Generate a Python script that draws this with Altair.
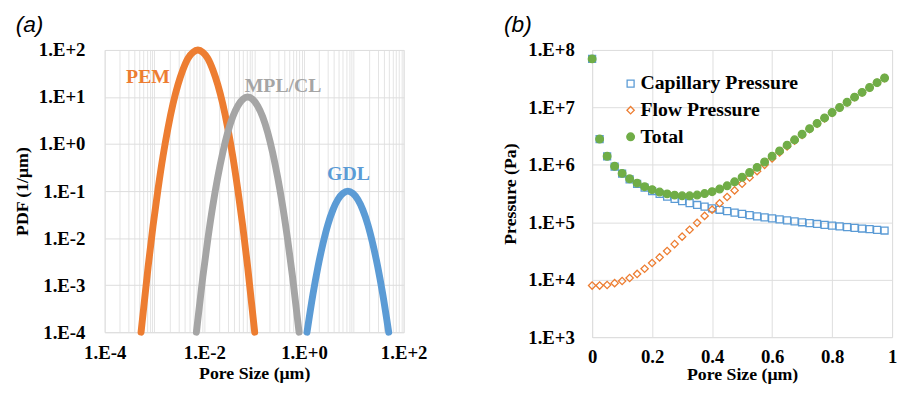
import altair as alt
import pandas as pd

# ---------------- Panel (a): pore size distributions ----------------
# log10(pore size, um) and log10(PDF, 1/um)
pem_log_size = [-3.27, -3.13, -3.03, -2.93, -2.83, -2.73, -2.63, -2.53, -2.43, -2.33, -2.23, -2.13,
                -2.03, -1.93, -1.83, -1.73, -1.63, -1.53, -1.43, -1.33, -1.23, -1.13, -0.99]
pem_log_pdf = [-4.0, -2.62, -1.74, -0.96, -0.26, 0.34, 0.85, 1.26, 1.58, 1.82, 1.95, 2.0,
               1.95, 1.82, 1.58, 1.26, 0.85, 0.34, -0.26, -0.96, -1.74, -2.62, -4.0]

mpl_log_size = [-2.16, -2.03, -1.93, -1.83, -1.73, -1.63, -1.53, -1.43, -1.33, -1.23, -1.13,
                -1.03, -0.93, -0.83, -0.73, -0.63, -0.53, -0.43, -0.33, -0.23, -0.10]
mpl_log_pdf = [-4.0, -2.82, -2.02, -1.31, -0.70, -0.18, 0.25, 0.58, 0.81, 0.95, 1.0,
               0.95, 0.81, 0.58, 0.25, -0.18, -0.70, -1.31, -2.02, -2.82, -4.0]

gdl_log_size = [0.06, 0.18, 0.28, 0.38, 0.48, 0.58, 0.68, 0.78, 0.88, 0.98, 1.08, 1.18, 1.28,
                1.38, 1.48, 1.58, 1.70]
gdl_log_pdf = [-4.0, -3.19, -2.61, -2.12, -1.71, -1.40, -1.18, -1.05, -1.0, -1.05, -1.18, -1.40,
               -1.71, -2.12, -2.61, -3.19, -4.0]

layer_names = ["PEM", "MPL/CL", "GDL"]
layer_colors = ["#ED7D31", "#A5A5A5", "#5B9BD5"]
label_size = [7.4e-4, 0.38, 7.8]
label_pdf = [27.0, 17.0, 0.226]

# ---------------- Panel (b): pressures ----------------
pore_size = [0.0, 0.025, 0.05, 0.075, 0.1, 0.125, 0.15, 0.175, 0.2, 0.225, 0.25, 0.275, 0.3,
             0.325, 0.35, 0.375, 0.4, 0.425, 0.45, 0.475, 0.5, 0.525, 0.55, 0.575, 0.6, 0.625,
             0.65, 0.675, 0.7, 0.725, 0.75, 0.775, 0.8, 0.825, 0.85, 0.875, 0.9, 0.925, 0.95, 0.975]
capillary = [7.0e7, 2.8e6, 1.4e6, 9.33e5, 7.0e5, 5.6e5, 4.67e5, 4.0e5, 3.5e5, 3.11e5, 2.8e5,
             2.55e5, 2.33e5, 2.15e5, 2.0e5, 1.87e5, 1.75e5, 1.65e5, 1.56e5, 1.47e5, 1.4e5,
             1.33e5, 1.27e5, 1.22e5, 1.17e5, 1.12e5, 1.08e5, 1.04e5, 1.0e5, 9.66e4, 9.33e4,
             9.03e4, 8.75e4, 8.48e4, 8.24e4, 8.0e4, 7.78e4, 7.57e4, 7.37e4, 7.18e4]
flow = [7.9e3, 7.9e3, 8.1e3, 8.7e3, 9.5e3, 1.07e4, 1.26e4, 1.55e4, 1.95e4, 2.45e4, 3.16e4,
        4.17e4, 5.62e4, 7.41e4, 9.77e4, 1.29e5, 1.66e5, 2.14e5, 2.75e5, 3.59e5, 4.68e5,
        6.03e5, 7.76e5, 1.0e6, 1.29e6, 1.64e6, 2.09e6, 2.63e6, 3.31e6, 4.17e6, 5.19e6,
        6.46e6, 8.04e6, 9.89e6, 1.22e7, 1.5e7, 1.82e7, 2.21e7, 2.69e7, 3.24e7]
total = [7.0e7, 2.81e6, 1.41e6, 9.42e5, 7.1e5, 5.71e5, 4.8e5, 4.16e5, 3.7e5, 3.36e5, 3.12e5,
         2.97e5, 2.89e5, 2.89e5, 2.98e5, 3.16e5, 3.41e5, 3.79e5, 4.31e5, 5.06e5, 6.08e5,
         7.36e5, 9.03e5, 1.12e6, 1.41e6, 1.75e6, 2.2e6, 2.73e6, 3.41e6, 4.27e6, 5.28e6,
         6.55e6, 8.13e6, 9.97e6, 1.23e7, 1.51e7, 1.83e7, 2.22e7, 2.7e7, 3.25e7]

series_names = ["Capillary Pressure", "Flow Pressure", "Total"]
series_colors = ["#5B9BD5", "#ED7D31", "#70AD47"]

# ---------------- build tables ----------------
rows = []
for name, xs, ys in [("PEM", pem_log_size, pem_log_pdf),
                     ("MPL/CL", mpl_log_size, mpl_log_pdf),
                     ("GDL", gdl_log_size, gdl_log_pdf)]:
    for i, (lx, ly) in enumerate(zip(xs, ys)):
        rows.append({"layer": name, "order": i, "size": 10 ** lx, "pdf": 10 ** ly})
dist_df = pd.DataFrame(rows)
label_df = pd.DataFrame({"layer": layer_names, "size": label_size, "pdf": label_pdf})

prow = []
for name, vals in [("Capillary Pressure", capillary), ("Flow Pressure", flow), ("Total", total)]:
    for x, v in zip(pore_size, vals):
        prow.append({"series": name, "x": x, "p": v})
press_df = pd.DataFrame(prow)

SERIF = "Liberation Serif"

layer_color = alt.Color("layer:N", scale=alt.Scale(domain=layer_names, range=layer_colors), legend=None)

x_grid_vals = [m * 10 ** e for e in range(-4, 2) for m in range(1, 10)] + [100]
exp_expr = "round(log(datum.value)/LN10)"
left_x_label = (f"(abs(log(datum.value)/LN10 - {exp_expr}) < 0.001 && {exp_expr} % 2 == 0) ? "
                f"'1.E' + ({exp_expr} >= 0 ? '+' : '') + {exp_expr} : ''")
y_label = f"'1.E' + ({exp_expr} >= 0 ? '+' : '') + {exp_expr}"

x_left = alt.X("size:Q", scale=alt.Scale(type="log", domain=[1e-4, 100]),
               axis=alt.Axis(title="Pore Size (μm)", values=x_grid_vals, labelExpr=left_x_label,
                             grid=True, gridColor="#E4E4E4", gridWidth=1, labelPadding=12,
                             titlePadding=2, labelFlush=False))
y_left = alt.Y("pdf:Q", scale=alt.Scale(type="log", domain=[1e-4, 100]),
               axis=alt.Axis(title="PDF (1/μm)", values=[1e-4, 1e-3, 1e-2, 1e-1, 1, 10, 100],
                             labelExpr=y_label, labelPadding=20, titlePadding=7))

lines = alt.Chart(dist_df).mark_line(strokeWidth=7, strokeCap="round", strokeJoin="round",
                                     interpolate="monotone").encode(
    x=x_left, y=y_left, color=layer_color, order="order:Q")
labels = alt.Chart(label_df).mark_text(font=SERIF, fontWeight="bold", fontSize=20).encode(
    x="size:Q", y="pdf:Q", text="layer:N", color=layer_color)

left = alt.layer(lines, labels).properties(
    width=303, height=286,
    title=alt.TitleParams("(a)", anchor="start", frame="bounds", dx=2))


def leg():
    return alt.Legend(title=None, orient="none", legendX=29, legendY=24,
                      labelFont=SERIF, labelFontSize=20, labelFontWeight="bold",
                      labelColor="black", symbolStrokeWidth=1.3, rowPadding=7, labelOffset=0)


pts = alt.Chart(press_df).mark_point(opacity=1, strokeWidth=1.3).encode(
    x=alt.X("x:Q", scale=alt.Scale(domain=[0, 1]),
            axis=alt.Axis(title="Pore Size (μm)", values=[0, 0.2, 0.4, 0.6, 0.8, 1], format="~g",
                          labelPadding=11, titlePadding=-1, labelFlush=False)),
    y=alt.Y("p:Q", scale=alt.Scale(type="log", domain=[1e3, 1e8]),
            axis=alt.Axis(title="Pressure (Pa)", values=[1e3, 1e4, 1e5, 1e6, 1e7, 1e8],
                          labelExpr=y_label, labelPadding=18, titlePadding=8)),
    stroke=alt.Stroke("series:N", scale=alt.Scale(domain=series_names, range=series_colors),
                      legend=leg()),
    fill=alt.Fill("series:N", scale=alt.Scale(domain=series_names,
                                               range=["transparent", "transparent", "#70AD47"]),
                  legend=leg()),
    shape=alt.Shape("series:N", scale=alt.Scale(domain=series_names,
                                                 range=["square", "diamond", "circle"]),
                    legend=leg()),
    size=alt.Size("series:N", scale=alt.Scale(domain=series_names, range=[50, 60, 70]),
                  legend=leg()),
).properties(width=304, height=291,
             title=alt.TitleParams("(b)", anchor="start", frame="bounds", dx=2))

chart = alt.hconcat(left, pts, spacing=74).properties(
    padding={"left": 5, "top": 3, "right": 0, "bottom": 0}
).configure_view(stroke="#D9D9D9", strokeWidth=1).configure_axis(
    labelFont=SERIF, labelFontSize=19, labelFontWeight="bold", labelColor="black",
    titleFont=SERIF, titleFontSize=18, titleFontWeight="bold", titleColor="black",
    domain=False, ticks=False, labelOverlap=False
).configure_title(
    font="Liberation Sans", fontSize=23, fontStyle="italic", fontWeight="normal",
    color="black", offset=4
).resolve_scale(color="independent").resolve_legend(
    stroke="independent", fill="independent", shape="independent", size="independent")

chart.save("out.html", embed_options={"renderer": "svg", "actions": False})
